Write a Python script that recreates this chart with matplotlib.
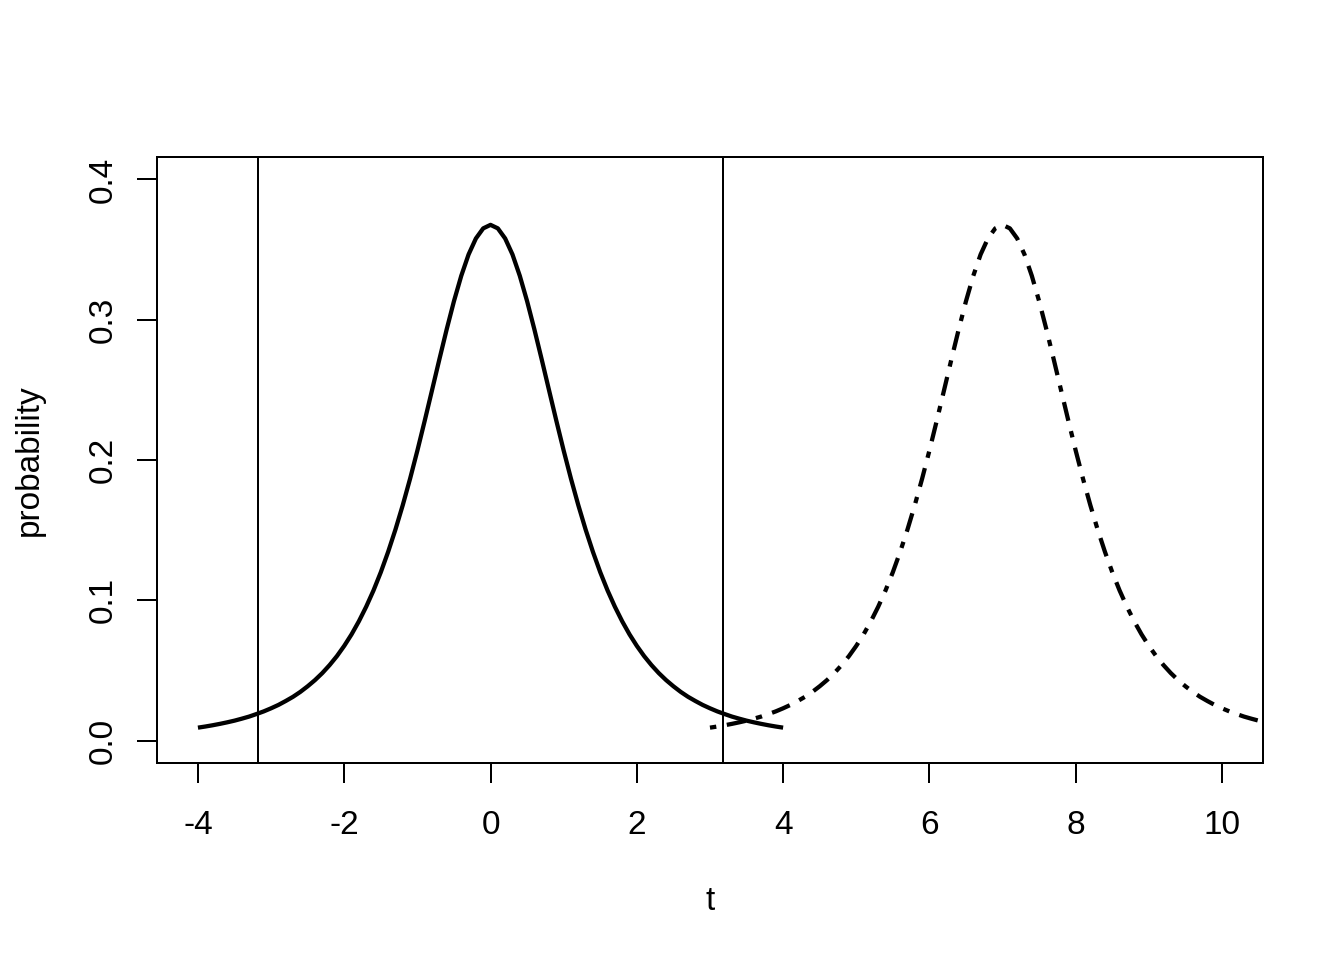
import matplotlib
matplotlib.use('Agg')
import matplotlib.pyplot as plt
import numpy as np

# t (df=3) density read at steps of 0.1 on the right half (curve is symmetric)
half_t = [round(0.1 * i, 1) for i in range(46)]
half_p = [0.3676, 0.3651, 0.3579, 0.3465, 0.3313, 0.3132, 0.2930, 0.2716,
          0.2497, 0.2279, 0.2067, 0.1866, 0.1678, 0.1504, 0.1345, 0.1200,
          0.1070, 0.0954, 0.0850, 0.0757, 0.0675, 0.0602, 0.0538, 0.0481,
          0.0431, 0.0387, 0.0347, 0.0312, 0.0282, 0.0254, 0.0230, 0.0208,
          0.0189, 0.0171, 0.0156, 0.0142, 0.0130, 0.0119, 0.0109, 0.0100,
          0.0092, 0.0084, 0.0078, 0.0072, 0.0066, 0.0061]

# solid curve spans -4..4, dot-dash curve is the same shape centred at 7, from 3
solid_max = 4.0
shift = 7.0

crit = [-3.182, 3.182]

plt.rcParams['font.family'] = ['Liberation Sans', 'DejaVu Sans']
plt.rcParams['axes.unicode_minus'] = False

ht = np.array(half_t)
hp = np.array(half_p)
keep = ht <= solid_max + 1e-9
t_full = np.concatenate([-ht[keep][::-1], ht[keep][1:]])
p_full = np.concatenate([hp[keep][::-1], hp[keep][1:]])

t2 = np.concatenate([-ht[keep][::-1], ht[1:]]) + shift
p2 = np.concatenate([hp[keep][::-1], hp[1:]])

fig = plt.figure(figsize=(7, 5), dpi=192)
ax = fig.add_axes([0.1168, 0.2052, 0.8229, 0.6313])

ax.plot(t_full, p_full, color='black', lw=1.6, solid_capstyle='butt',
        solid_joinstyle='round')
ax.plot(t2, p2, color='black', lw=1.6, dashes=(1.5, 2.5, 4.5, 2.5))
for c in crit:
    ax.axvline(c, color='black', lw=0.75)

ax.set_xlim(-4.56, 10.56)
ax.set_ylim(-0.016, 0.416)
ax.set_xticks([-4, -2, 0, 2, 4, 6, 8, 10])
ax.set_yticks([0.0, 0.1, 0.2, 0.3, 0.4])
ax.set_yticklabels(['0.0', '0.1', '0.2', '0.3', '0.4'])

for s in ax.spines.values():
    s.set_linewidth(0.75)

ax.tick_params(direction='out', length=7.5, width=0.75, labelsize=12.5)
ax.tick_params(axis='x', pad=10)
ax.tick_params(axis='y', pad=7, labelrotation=90)
for lab in ax.get_yticklabels():
    lab.set_va('center')

ax.set_xlabel('t', fontsize=12.5, labelpad=17)
ax.set_ylabel('probability', fontsize=12.5, labelpad=16)

fig.savefig('out.png', dpi=192)
